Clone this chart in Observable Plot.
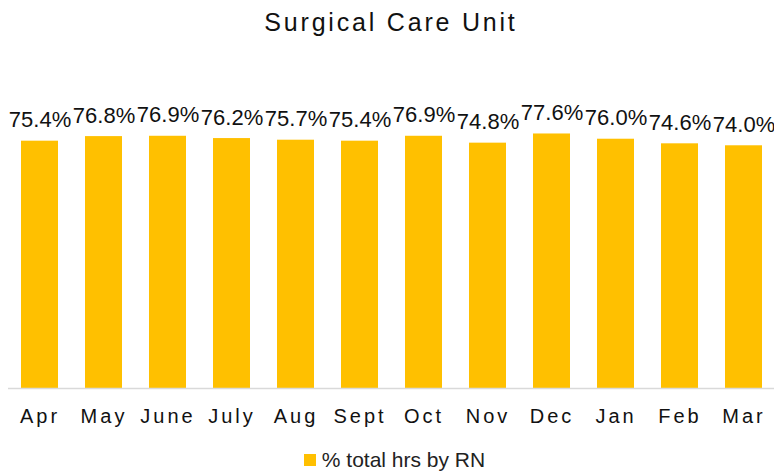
<!DOCTYPE html>
<html>
<head>
<meta charset="utf-8">
<script src="https://cdn.jsdelivr.net/npm/d3@7"></script>
<script src="https://cdn.jsdelivr.net/npm/@observablehq/plot@0.6"></script>
<style>
  html, body { margin: 0; padding: 0; background: #fff; }
  #wrap { width: 774px; height: 472px; position: relative; overflow: hidden; }
  #title { height: 44px; text-align: center; font-family: "Liberation Sans Narrow", "Liberation Sans", sans-serif; font-size: 25px; letter-spacing: 2.8px; line-height: 44px; color: #111; padding-left: 8px; box-sizing: border-box; }
  #legend { position: absolute; left: 0; top: 448px; width: 774px; padding-left: 15px; box-sizing: border-box; text-align: center; font-family: "Liberation Sans", sans-serif; font-size: 21px; color: #222; }
  #legend .sw { display: inline-block; width: 12px; height: 12px; background: #FFC000; margin-right: 6px; vertical-align: 1px; }
</style>
</head>
<body>
<div id="wrap">
  <div id="title">Surgical Care Unit</div>
  <div id="chart"></div>
  <div id="legend"><span class="sw"></span>% total hrs by RN</div>
</div>
<script>
const months = ["Apr","May","June","July","Aug","Sept","Oct","Nov","Dec","Jan","Feb","Mar"];
const pctRN = [75.4, 76.8, 76.9, 76.2, 75.7, 75.4, 76.9, 74.8, 77.6, 76.0, 74.6, 74.0];
const seriesName = "% total hrs by RN";

const data = months.map((m, i) => ({month: m, value: pctRN[i]}));

const chart = Plot.plot({
  width: 774,
  height: 396,
  marginTop: 16,
  marginBottom: 52,
  marginLeft: 8,
  marginRight: 0,
  x: {domain: months, paddingInner: 0.42, paddingOuter: 0.21, range: [7.5, 775.5], label: null},
  y: {domain: [0, 100], axis: null},
  style: {background: "transparent", overflow: "visible"},
  marks: [
    Plot.barY(data, {x: "month", y: "value", fill: "#FFC000"}),
    Plot.ruleY([0], {stroke: "#d9d9d9", strokeWidth: 1.5}),
    Plot.text(data, {x: "month", y: "value", text: d => d.value.toFixed(1) + "%", lineAnchor: "bottom", dy: -14, fontSize: 22, fill: "#111", fontFamily: "Liberation Sans Narrow, Liberation Sans, sans-serif"}),
    Plot.axisX({tickSize: 0, tickPadding: 20, fontSize: 20, fill: "#111", fontFamily: "Liberation Sans, sans-serif", label: null})
  ]
});
chart.querySelectorAll('[aria-label="x-axis tick label"] text').forEach(t => t.style.letterSpacing = "3px");
document.getElementById("chart").appendChild(chart);
</script>
</body>
</html>
